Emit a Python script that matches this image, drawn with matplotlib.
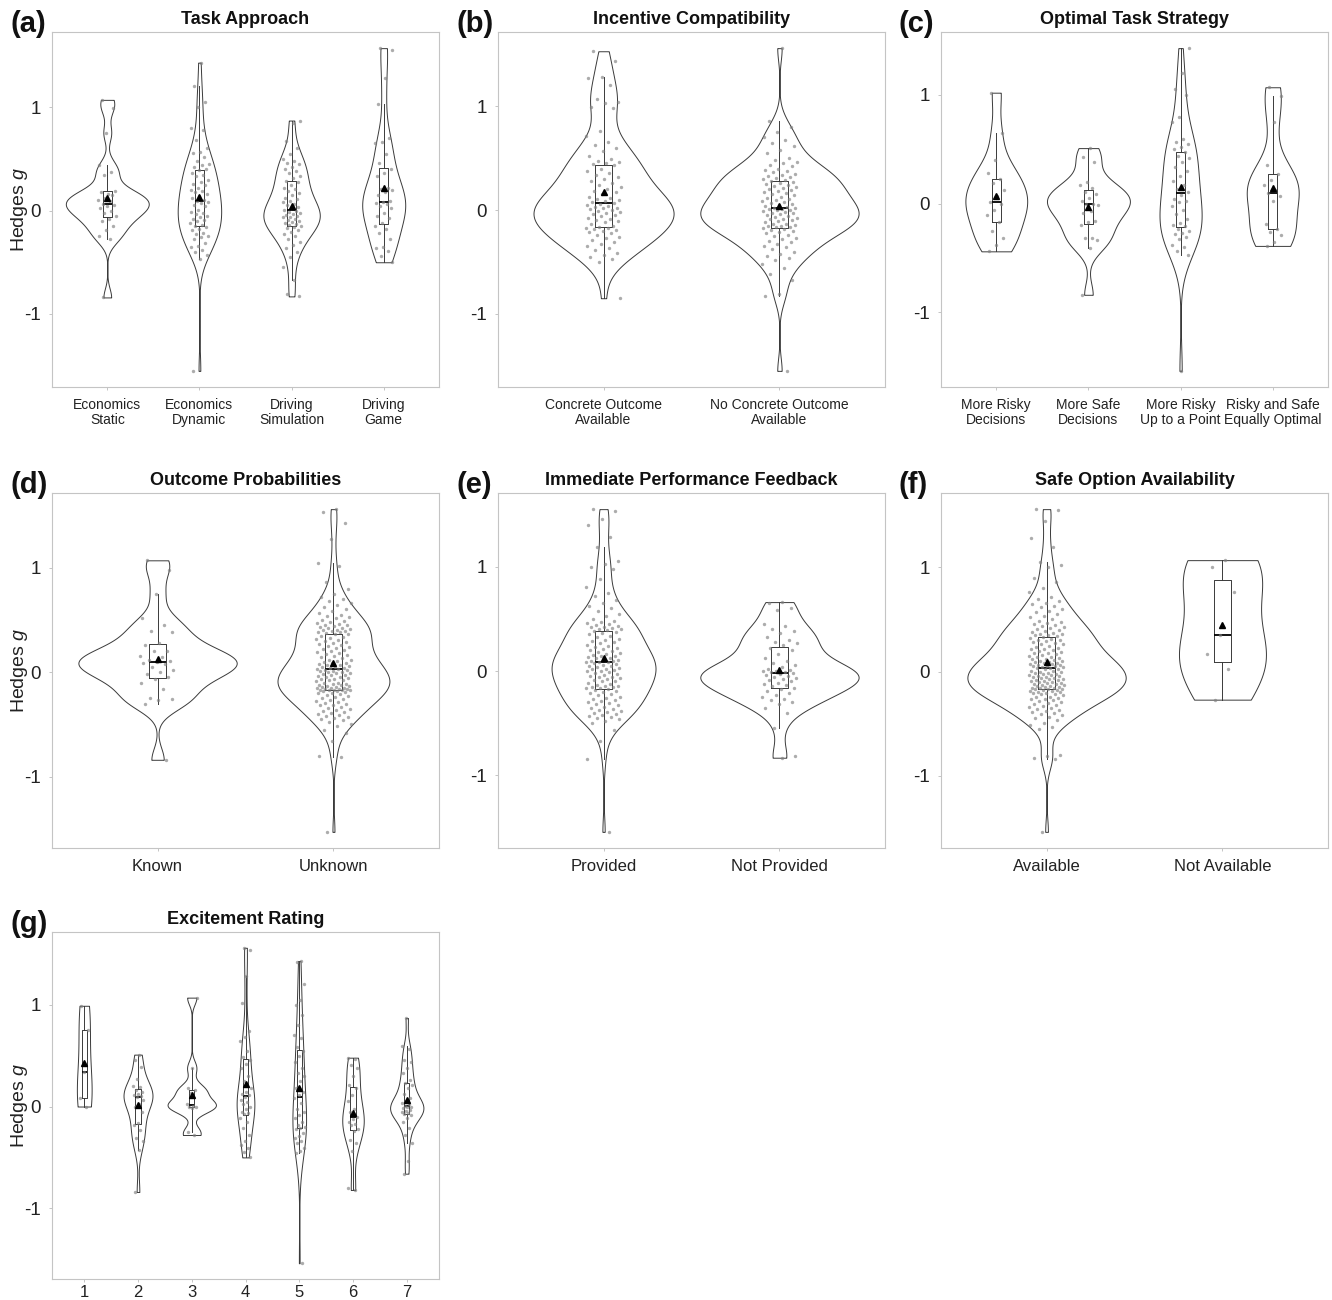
import numpy as np
import matplotlib
matplotlib.use('Agg')
import matplotlib.pyplot as plt

plt.rcParams['font.family'] = ['Liberation Sans', 'DejaVu Sans']
plt.rcParams['mathtext.fontset'] = 'custom'
plt.rcParams['mathtext.rm'] = 'Liberation Sans'
plt.rcParams['mathtext.it'] = 'Liberation Sans:italic'
plt.rcParams['axes.unicode_minus'] = False

# ---- (a) Task Approach ----
task_labels = ['Economics\nStatic', 'Economics\nDynamic', 'Driving\nSimulation', 'Driving\nGame']
econ_static = [1.07, 0.99, 0.75, 0.44, 0.37, 0.34, 0.19, 0.16, 0.18, 0.15, 0.12, 0.10, 0.09, 0.06,
               0.05, 0.04, 0.02, 0.00, -0.02, -0.05, -0.08, -0.10, -0.15, -0.19, -0.25, -0.28, -0.84]
econ_dynamic = [1.43, 1.20, 1.05, 1.00, 0.80, 0.78, 0.68, 0.60, 0.57, 0.56, 0.52, 0.48, 0.45, 0.44,
                0.42, 0.40, 0.39, 0.36, 0.34, 0.33, 0.30, 0.28, 0.26, 0.25, 0.22, 0.20, 0.19, 0.18,
                0.16, 0.14, 0.12, 0.10, 0.09, 0.08, 0.07, 0.05, 0.04, 0.01, -0.01, -0.02, -0.03,
                -0.05, -0.06, -0.08, -0.09, -0.10, -0.12, -0.14, -0.15, -0.16, -0.18, -0.19, -0.22,
                -0.23, -0.25, -0.26, -0.28, -0.31, -0.34, -0.35, -0.38, -0.40, -0.43, -0.47, -1.55]
driving_sim = [0.87, 0.85, 0.67, 0.60, 0.55, 0.50, 0.48, 0.46, 0.45, 0.42, 0.40, 0.38, 0.36, 0.33,
               0.31, 0.29, 0.28, 0.25, 0.22, 0.21, 0.19, 0.17, 0.15, 0.12, 0.11, 0.09, 0.08, 0.06,
               0.05, 0.03, 0.02, 0.01, 0.00, -0.01, -0.02, -0.03, -0.04, -0.05, -0.06, -0.06, -0.08,
               -0.09, -0.10, -0.11, -0.12, -0.13, -0.14, -0.15, -0.16, -0.17, -0.19, -0.21, -0.23,
               -0.25, -0.28, -0.30, -0.33, -0.36, -0.40, -0.45, -0.55, -0.67, -0.81, -0.83]
driving_game = [1.57, 1.55, 1.28, 1.03, 0.70, 0.66, 0.65, 0.55, 0.46, 0.40, 0.36, 0.33, 0.22, 0.21,
                0.20, 0.18, 0.15, 0.09, 0.08, 0.07, 0.06, 0.04, 0.02, -0.02, -0.05, -0.07, -0.12,
                -0.15, -0.18, -0.22, -0.28, -0.35, -0.36, -0.39, -0.44, -0.50]

# ---- (b) Incentive Compatibility ----
incentive_labels = ['Concrete Outcome\nAvailable', 'No Concrete Outcome\nAvailable']
concrete = [1.53, 1.44, 1.28, 1.27, 1.20, 1.07, 1.04, 1.03, 0.99, 0.98, 0.76, 0.71, 0.66, 0.63,
            0.60, 0.57, 0.52, 0.49, 0.47, 0.46, 0.45, 0.44,
            0.43, 0.40, 0.38, 0.36, 0.34, 0.32, 0.30, 0.28, 0.26, 0.24, 0.22, 0.20, 0.18, 0.17,
            0.15, 0.13, 0.12, 0.11, 0.10, 0.09, 0.08, 0.07,
            0.06, 0.05, 0.04, 0.03, 0.02, 0.02, 0.01, 0.00, -0.01, -0.02, -0.03, -0.04, -0.05,
            -0.06, -0.08, -0.09, -0.10, -0.11, -0.12, -0.13, -0.15, -0.16,
            -0.17, -0.17, -0.18, -0.19, -0.20, -0.21, -0.22, -0.24, -0.26, -0.27, -0.29, -0.31,
            -0.33, -0.35, -0.37, -0.39, -0.41, -0.43, -0.45, -0.47, -0.50, -0.85]
no_concrete = [1.56, 0.86, 0.80, 0.75, 0.70, 0.67, 0.65, 0.62, 0.58, 0.55, 0.50, 0.48, 0.46, 0.45,
               0.43, 0.42, 0.40, 0.39, 0.38, 0.37, 0.35, 0.34, 0.33, 0.32, 0.31, 0.30, 0.29,
               0.28, 0.27, 0.26, 0.25, 0.24, 0.23, 0.22, 0.21, 0.20, 0.19, 0.18, 0.17, 0.16, 0.15,
               0.14, 0.13, 0.12, 0.11, 0.10, 0.09, 0.08, 0.07, 0.06, 0.05, 0.04, 0.03, 0.02,
               0.02, 0.01, 0.01, 0.00, 0.00, -0.01, -0.02, -0.03, -0.03, -0.04, -0.05, -0.06, -0.07,
               -0.08, -0.09, -0.09, -0.10, -0.11, -0.12, -0.13, -0.13, -0.14, -0.15, -0.15, -0.16,
               -0.16, -0.17,
               -0.18, -0.19, -0.20, -0.21, -0.22, -0.24, -0.25, -0.27, -0.28, -0.30, -0.31, -0.33,
               -0.35, -0.36, -0.38, -0.40, -0.42, -0.44, -0.46, -0.48, -0.52, -0.56, -0.62, -0.67,
               -0.81, -0.83, -1.55]

# ---- (c) Optimal Task Strategy ----
strategy_labels = ['More Risky\nDecisions', 'More Safe\nDecisions', 'More Risky\nUp to a Point',
                   'Risky and Safe\nEqually Optimal']
more_risky = [1.02, 0.65, 0.40, 0.28, 0.23, 0.19, 0.12, 0.07, 0.01, 0.00, -0.06, -0.11, -0.17,
              -0.25, -0.32, -0.38, -0.44]
more_safe = [0.51, 0.43, 0.38, 0.20, 0.17, 0.14, 0.11, 0.09, 0.05, 0.02, 0.00, 0.00, -0.01, -0.07,
             -0.09, -0.16, -0.17, -0.20, -0.32, -0.32, -0.34, -0.41, -0.84]
risky_up_to_point = [1.43, 1.20, 1.05, 1.00, 0.80, 0.75, 0.59, 0.57, 0.55, 0.52, 0.50,
                     0.47, 0.44, 0.42, 0.38, 0.34, 0.30, 0.25, 0.21, 0.17, 0.13, 0.11,
                     0.08, 0.04, 0.02, 0.01, -0.02, -0.06, -0.10, -0.14, -0.18, -0.20, -0.21,
                     -0.23, -0.25, -0.27, -0.28, -0.31, -0.33, -0.38, -0.40, -0.44, -0.47, -1.54]
equally_optimal = [1.07, 0.99, 0.75, 0.35, 0.27, 0.22, 0.17, 0.12, 0.10, 0.07, 0.02, -0.19, -0.23,
                   -0.26, -0.29, -0.35, -0.39]

# ---- (d) Outcome Probabilities ----
prob_labels = ['Known', 'Unknown']
known = [1.07, 0.98, 0.75, 0.52, 0.45, 0.39, 0.38, 0.28, 0.26, 0.20, 0.20, 0.15, 0.14, 0.12, 0.11,
         0.10, 0.09, 0.08, 0.05, 0.02, 0.00, -0.02, -0.05, -0.07, -0.10, -0.16, -0.25, -0.26,
         -0.27, -0.31, -0.84]
unknown = [1.56, 1.53, 1.43, 1.27, 1.04, 1.02, 0.86, 0.80, 0.75, 0.72, 0.70, 0.68, 0.66, 0.64,
           0.62, 0.60, 0.58, 0.57, 0.55, 0.54, 0.53, 0.52, 0.50, 0.49, 0.48, 0.47, 0.46, 0.45,
           0.45, 0.44, 0.43, 0.42, 0.42, 0.41, 0.40, 0.40, 0.39, 0.39, 0.38, 0.38, 0.37,
           0.36, 0.36, 0.35, 0.34, 0.33, 0.32, 0.31, 0.30, 0.29, 0.28, 0.27, 0.26, 0.25, 0.24,
           0.23, 0.22, 0.21, 0.20, 0.19, 0.18, 0.17, 0.16, 0.15, 0.14, 0.13, 0.12, 0.12, 0.11,
           0.10, 0.09, 0.09, 0.08, 0.07, 0.07, 0.06, 0.05, 0.05, 0.04, 0.04, 0.03, 0.03,
           0.02, 0.02, 0.01, 0.01, 0.00, 0.00, -0.01, -0.01, -0.02, -0.03, -0.03, -0.04, -0.05,
           -0.05, -0.06, -0.07, -0.07, -0.08, -0.08, -0.09, -0.10, -0.10, -0.11, -0.11, -0.12,
           -0.12, -0.13, -0.13, -0.14, -0.14, -0.15, -0.15, -0.15, -0.16, -0.16, -0.16, -0.17,
           -0.17, -0.17, -0.17, -0.17,
           -0.18, -0.18, -0.19, -0.20, -0.20, -0.21, -0.22, -0.23, -0.24, -0.25, -0.26, -0.27,
           -0.28, -0.29, -0.30, -0.31, -0.32, -0.32, -0.33, -0.34, -0.35, -0.36, -0.37, -0.38,
           -0.39, -0.40, -0.41, -0.42, -0.43, -0.44, -0.45, -0.46, -0.48, -0.50, -0.52, -0.55,
           -0.58, -0.66, -0.80, -0.81, -1.53]

# ---- (e) Immediate Performance Feedback ----
feedback_labels = ['Provided', 'Not Provided']
provided = [1.55, 1.53, 1.46, 1.40, 1.28, 1.19, 1.05, 1.02, 1.00, 0.98, 0.88, 0.80, 0.75, 0.72,
            0.68, 0.65, 0.62, 0.60, 0.57, 0.55, 0.53, 0.50, 0.48, 0.47, 0.46, 0.45, 0.44, 0.43,
            0.42, 0.42, 0.41, 0.40, 0.40, 0.39,
            0.38, 0.37, 0.36, 0.35, 0.34, 0.33, 0.31, 0.30, 0.29, 0.28, 0.27, 0.25, 0.24, 0.23,
            0.22, 0.21, 0.20, 0.19, 0.18, 0.17, 0.16, 0.15, 0.14, 0.14, 0.13, 0.12, 0.12, 0.11,
            0.11, 0.10, 0.10, 0.09, 0.09, 0.09,
            0.08, 0.07, 0.06, 0.05, 0.05, 0.04, 0.03, 0.02, 0.02, 0.01, 0.00, 0.00, -0.01, -0.02,
            -0.03, -0.04, -0.05, -0.06, -0.06, -0.07, -0.08, -0.09, -0.10, -0.10, -0.11, -0.12,
            -0.13, -0.14, -0.14, -0.15, -0.15, -0.16, -0.16, -0.17,
            -0.18, -0.19, -0.20, -0.21, -0.22, -0.23, -0.25, -0.26, -0.27, -0.28, -0.29, -0.30,
            -0.31, -0.32, -0.33, -0.34, -0.35, -0.36, -0.37, -0.38, -0.39, -0.40, -0.41, -0.42,
            -0.43, -0.44, -0.45, -0.46, -0.48, -0.50, -0.56, -0.67, -0.84, -1.54]
not_provided = [0.66, 0.65, 0.60, 0.58, 0.45, 0.43, 0.40, 0.38, 0.36, 0.33, 0.30, 0.28, 0.27, 0.25,
                0.22, 0.20, 0.16, 0.12, 0.10, 0.08, 0.06, 0.04, 0.02, 0.01, 0.00, 0.00, -0.01,
                -0.01, -0.02, -0.03, -0.04, -0.05, -0.06, -0.07, -0.08, -0.09, -0.10, -0.11, -0.12,
                -0.13, -0.14, -0.16, -0.17, -0.19, -0.21, -0.23, -0.25, -0.27, -0.28, -0.30, -0.32,
                -0.35, -0.40, -0.55, -0.81, -0.83]

# ---- (f) Safe Option Availability ----
safe_labels = ['Available', 'Not Available']
available = [1.56, 1.55, 1.45, 1.28, 1.20, 1.05, 1.02, 1.00, 0.90, 0.86, 0.80, 0.76, 0.72, 0.70,
             0.68, 0.66, 0.65, 0.63, 0.62, 0.60, 0.58, 0.57, 0.55, 0.53, 0.52, 0.50, 0.49, 0.48,
             0.47, 0.46, 0.45, 0.44, 0.43, 0.42, 0.41, 0.40, 0.39, 0.38, 0.37, 0.36, 0.36, 0.35,
             0.35, 0.34,
             0.33, 0.32, 0.31, 0.30, 0.30, 0.29, 0.28, 0.27, 0.26, 0.26, 0.25, 0.24, 0.23, 0.22,
             0.22, 0.21, 0.20, 0.19, 0.18, 0.18, 0.17, 0.16, 0.15, 0.14, 0.14, 0.13, 0.12, 0.12,
             0.11, 0.10, 0.10, 0.09, 0.09, 0.08, 0.08, 0.07, 0.07, 0.06, 0.06, 0.05, 0.05, 0.05,
             0.04, 0.04,
             0.03, 0.03, 0.02, 0.02, 0.01, 0.01, 0.00, 0.00, -0.01, -0.01, -0.02, -0.02, -0.03,
             -0.03, -0.04, -0.04, -0.05, -0.05, -0.06, -0.06, -0.07, -0.07, -0.08, -0.08, -0.09,
             -0.09, -0.10, -0.10, -0.11, -0.11, -0.12, -0.12, -0.13, -0.13, -0.14, -0.14, -0.15,
             -0.15, -0.16, -0.16, -0.16, -0.17, -0.17, -0.17,
             -0.18, -0.18, -0.19, -0.19, -0.20, -0.20, -0.21, -0.21, -0.22, -0.22, -0.23, -0.24,
             -0.24, -0.25, -0.26, -0.26, -0.27, -0.28, -0.29, -0.30, -0.31, -0.32, -0.33, -0.34,
             -0.35, -0.36, -0.37, -0.38, -0.39, -0.40, -0.41, -0.42, -0.44, -0.45, -0.47, -0.49,
             -0.51, -0.53, -0.55, -0.80, -0.81, -0.83, -0.84, -1.54]
not_available = [1.07, 1.00, 0.76, 0.35, 0.17, 0.02, -0.27]

# ---- (g) Excitement Rating ----
rating_labels = ['1', '2', '3', '4', '5', '6', '7']
rating_1 = [0.99, 0.75, 0.34, 0.08, 0.00]
rating_2 = [0.51, 0.46, 0.39, 0.27, 0.20, 0.19, 0.16, 0.14, 0.12, 0.11, 0.10, 0.09, 0.06, 0.02,
            0.00, -0.05, -0.16, -0.18, -0.23, -0.31, -0.34, -0.43, -0.84]
rating_3 = [1.07, 0.38, 0.18, 0.16, 0.13, 0.02, 0.01, 0.00, 0.00, -0.01, -0.25, -0.28]
rating_4 = [1.56, 1.54, 1.28, 1.02, 0.74, 0.68, 0.64, 0.55, 0.49, 0.46, 0.42, 0.38, 0.30, 0.25,
            0.18, 0.14, 0.12, 0.11, 0.09, 0.06, 0.04, 0.02, 0.00, -0.02, -0.05, -0.06, -0.07,
            -0.11, -0.15, -0.21, -0.28, -0.34, -0.38, -0.41, -0.45, -0.50]
rating_5 = [1.43, 1.42, 1.20, 1.05, 1.00, 0.90, 0.80, 0.70, 0.67, 0.58, 0.55, 0.50, 0.44, 0.38,
            0.33, 0.30, 0.25, 0.18, 0.14, 0.11, 0.08, 0.03, -0.02, -0.05, -0.08, -0.11, -0.15,
            -0.18, -0.20, -0.21, -0.22, -0.26, -0.29, -0.31, -0.34, -0.36, -0.41, -0.44, -0.46,
            -1.54]
rating_6 = [0.48, 0.47, 0.41, 0.38, 0.30, 0.21, 0.18, 0.11, 0.05, -0.02, -0.05, -0.10, -0.12,
            -0.15, -0.17, -0.18, -0.22, -0.24, -0.33, -0.36, -0.44, -0.80, -0.82]
rating_7 = [0.87, 0.59, 0.57, 0.46, 0.44, 0.38, 0.33, 0.26, 0.23, 0.21, 0.18, 0.12, 0.08, 0.05,
            0.03, 0.02, 0.01, 0.00, 0.00, -0.01, -0.03, -0.04, -0.05, -0.06, -0.07, -0.08, -0.11,
            -0.15, -0.21, -0.28, -0.36, -0.54, -0.66]

W, H = 1332, 1300
lefts = [52, 498, 941]
tops = [32, 493, 932]
bottoms = [387, 848, 1279]
AX_W = 387

panels = [
    ('(a)', 'Task Approach', task_labels, [econ_static, econ_dynamic, driving_sim, driving_game], 0, 0, True, 10),
    ('(b)', 'Incentive Compatibility', incentive_labels, [concrete, no_concrete], 0, 1, False, 10),
    ('(c)', 'Optimal Task Strategy', strategy_labels,
     [more_risky, more_safe, risky_up_to_point, equally_optimal], 0, 2, False, 10),
    ('(d)', 'Outcome Probabilities', prob_labels, [known, unknown], 1, 0, True, 12),
    ('(e)', 'Immediate Performance Feedback', feedback_labels, [provided, not_provided], 1, 1, False, 12),
    ('(f)', 'Safe Option Availability', safe_labels, [available, not_available], 1, 2, False, 12),
    ('(g)', 'Excitement Rating', rating_labels,
     [rating_1, rating_2, rating_3, rating_4, rating_5, rating_6, rating_7], 2, 0, True, 12),
]


def bw_nrd0(x):
    # R's default bandwidth, as used by ggplot's violins
    sd = np.std(x, ddof=1)
    q75, q25 = np.percentile(x, [75, 25])
    lo = min(sd, (q75 - q25) / 1.34)
    if lo <= 0:
        lo = sd
    return 0.9 * lo * len(x) ** -0.2


def kde_peak(x, bw):
    grid = np.linspace(x.min(), x.max(), 512)
    d = np.exp(-0.5 * ((grid[:, None] - x[None, :]) / bw) ** 2).sum(axis=1)
    return (d / (len(x) * bw * np.sqrt(2 * np.pi))).max()


fig = plt.figure(figsize=(W / 100, H / 100), dpi=100)

for letter, title, labels, groups, row, col, ylab, xfs in panels:
    left, top, bot = lefts[col], tops[row], bottoms[row]
    ax = fig.add_axes([left / W, 1 - bot / H, AX_W / W, (bot - top) / H])
    groups = [np.array(g, dtype=float) for g in groups]
    bws = [bw_nrd0(g) for g in groups]
    peaks = [kde_peak(g, b) for g, b in zip(groups, bws)]
    top_peak = max(peaks)

    # violins, scaled by area like ggplot
    for i, (g, b, p) in enumerate(zip(groups, bws, peaks)):
        v = ax.violinplot([g], positions=[i + 1], widths=[0.9 * p / top_peak], points=512,
                          bw_method=b / np.std(g, ddof=1), showextrema=False)
        for body in v['bodies']:
            body.set_facecolor('white')
            body.set_edgecolor('#3a3a3a')
            body.set_linewidth(0.7)
            body.set_alpha(1)
            body.set_zorder(1)

    bp = ax.boxplot(groups, positions=range(1, len(groups) + 1), widths=0.1, showfliers=False,
                    showcaps=False, showmeans=True, manage_ticks=False,
                    boxprops=dict(color='#3a3a3a', linewidth=0.7),
                    whiskerprops=dict(color='#3a3a3a', linewidth=0.7),
                    medianprops=dict(color='black', linewidth=1.3),
                    meanprops=dict(marker='^', markerfacecolor='black', markeredgecolor='black',
                                   markersize=4))
    for m in bp['means']:
        m.set_zorder(5)

    # jittered points (deterministic spread)
    for i, g in enumerate(groups):
        idx = np.arange(len(g))
        off = 0.1 * (2 * ((idx * 0.6180339887 + 0.37 * i + 0.21) % 1) - 1)
        ax.scatter(i + 1 + off, g, s=6, color='#808080', alpha=0.65, linewidths=0, zorder=4)

    allv = np.concatenate(groups)
    lo, hi = allv.min(), allv.max()
    pad = 0.05 * (hi - lo)
    ax.set_ylim(lo - pad, hi + pad)
    ax.set_xlim(0.4, len(groups) + 0.6)
    ax.set_yticks([-1, 0, 1])
    ax.set_yticklabels(['-1', '0', '1'], fontsize=13.5, color='#222222')
    ax.set_xticks(range(1, len(groups) + 1))
    ax.set_xticklabels(labels, fontsize=xfs, color='#222222', linespacing=1.1)
    ax.tick_params(axis='y', length=2, width=0.6, color='#bbbbbb', pad=6)
    ax.tick_params(axis='x', length=2, width=0.6, color='#bbbbbb', pad=2 if row == 2 else 6)
    for s in ax.spines.values():
        s.set_color('#c4c4c4')
        s.set_linewidth(0.8)
    ax.set_title(title, fontsize=13, fontweight='bold', pad=6, color='#111111')
    if ylab:
        ax.set_ylabel('Hedges $g$', fontsize=14, color='#222222')
        ax.yaxis.set_label_coords(-0.058, 0.5)
    fig.text((left - 42) / W, 1 - (top - 8) / H, letter, fontsize=21, fontweight='bold',
             ha='left', va='center', color='#111111')

fig.savefig('out.png', dpi=100)
